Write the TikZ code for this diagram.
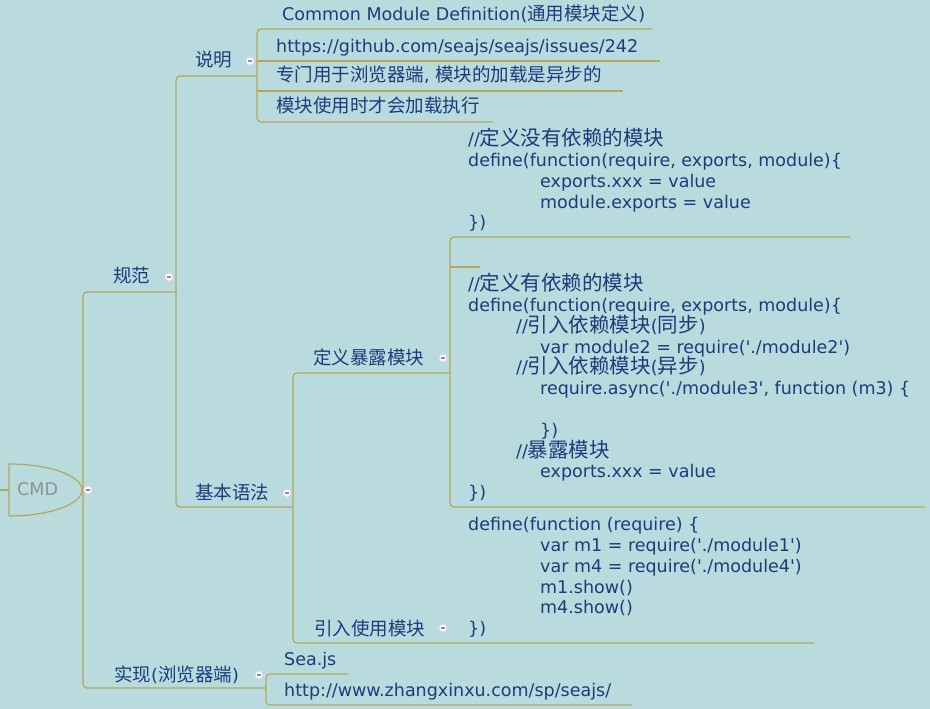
\documentclass[tikz,border=0pt]{standalone}
\usepackage{fontspec}
\setmainfont{DejaVu Sans}
\newfontfamily\cjkfont{Noto Sans CJK SC}
\newcommand\zh[1]{{\cjkfont\fontsize{18.5}{21}\selectfont #1}}
\newcommand\zc[1]{{\cjkfont\fontsize{20.5}{21}\selectfont #1}}
\newcommand\qq{\textquotesingle}
\definecolor{bgc}{HTML}{B9DBDE}
\definecolor{lnc}{HTML}{B3A75C}
\definecolor{txc}{HTML}{1A3C7C}
\definecolor{grc}{HTML}{8C9398}
\definecolor{lavc}{HTML}{D2CFF5}
\definecolor{mic}{HTML}{8E8E9A}
\tikzset{
  lbl/.style={text=txc, inner sep=0pt, anchor=base west, font=\fontsize{17.5}{21}\selectfont},
  conn/.style={draw=lnc, line width=1.2pt, rounded corners=4pt},
  mn/.style={circle, fill=white, draw=lavc, line width=1pt, minimum size=8.5pt, inner sep=0pt,
    path picture={\draw[mic, line width=1.3pt] ([xshift=-2.3pt]path picture bounding box.center) -- ([xshift=2.3pt]path picture bounding box.center);}}
}
\begin{document}
\begin{tikzpicture}[x=1pt,y=-1pt]
\fill[bgc] (0,0) rectangle (930,709);
\useasboundingbox (0,0) rectangle (930,709);

% ---- connectors (underline style tree) ----
\coordinate (r0) at (0,490);
\coordinate (r1) at (9,490);
\draw[conn] (r0) -- (r1);
\draw[draw=lnc, line width=1.2pt] (9,516) -- (9,464) arc[start angle=-90, end angle=90, x radius=73, y radius=26];

\coordinate (gfU) at (176,292);
\coordinate (sxU) at (266,688);
\draw[conn] (gfU) -- (83,292) -- (83,688) -- (sxU);

\coordinate (smU) at (257,76);
\coordinate (jbU) at (293,507);
\draw[conn] (smU) -- (176,76) -- (176,507) -- (jbU);

\draw[conn] (652,29) -- (257,29) -- (257,122) -- (493,122);
\draw[conn] (257,61) -- (660,61);
\draw[conn] (257,91) -- (623,91);

\draw[conn] (348,674) -- (266,674) -- (266,705) -- (632,705);

\coordinate (dyU) at (449,373);
\draw[conn] (dyU) -- (293,373) -- (293,643) -- (814,643);

\draw[conn] (850,237) -- (450,237) -- (450,507) -- (925,507);
\draw[conn] (450,267) -- (480,267);

% ---- labels ----
\node[lbl, text=grc] (cmd) at (17,495.7) {CMD};
\node[lbl] (guifan) at (113,282.7) {\zh{规范}};
\node[lbl] (shuoming) at (195,66.7) {\zh{说明}};
\node[lbl] (jiben) at (195,499.3) {\zh{基本语法}};
\node[lbl] (shixian) at (114,681.7) {\zh{实现}(\zh{浏览器端})};
\node[lbl] (dingyi) at (313,364.3) {\zh{定义暴露模块}};
\node[lbl] (yinru) at (314,635) {\zh{引入使用模块}};

\node[lbl] (com) at (282,21) {Common Module Definition(\zh{通用模块定义})};
\node[lbl] (url1) at (276,52.3) {https://github.com/seajs/seajs/issues/242};
\node[lbl] (desc1) at (276,82) {\zh{专门用于浏览器端}, \zh{模块的加载是异步的}};
\node[lbl] (desc2) at (276,112.7) {\zh{模块使用时才会加载执行}};
\node[lbl] (seajs) at (284,665.7) {Sea.js};
\node[lbl] (url2) at (284,696.7) {http://www.zhangxinxu.com/sp/seajs/};

% ---- code block 1 ----
\node[lbl] (a0) at (468,146.0) {//\zc{定义没有依赖的模块}};
\node[lbl] (a1) at (468,166.7) {define(function(require, exports, module)\{};
\node[lbl] (a2) at (540,187.4) {exports.xxx = value};
\node[lbl] (a3) at (540,208.1) {module.exports = value};
\node[lbl] (a4) at (468,228.8) {\})};

% ---- code block 2 ----
\node[lbl] (b0) at (468,290.7) {//\zc{定义有依赖的模块}};
\node[lbl] (b1) at (468,311.5) {define(function(require, exports, module)\{};
\node[lbl] (b2) at (516,332.3) {//\zc{引入依赖模块}(\zc{同步})};
\node[lbl] (b3) at (540,353.1) {var module2 = require(\qq./module2\qq)};
\node[lbl] (b4) at (516,373.9) {//\zc{引入依赖模块}(\zc{异步})};
\node[lbl] (b5) at (540,394.7) {require.async(\qq./module3\qq, function (m3) \{};
\node[lbl] (b7) at (540,436.3) {\})};
\node[lbl] (b8) at (516,457.1) {//\zc{暴露模块}};
\node[lbl] (b9) at (540,477.9) {exports.xxx = value};
\node[lbl] (b10) at (468,498.7) {\})};

% ---- code block 3 ----
\node[lbl] (c0) at (468,530.7) {define(function (require) \{};
\node[lbl] (c1) at (540,551.5) {var m1 = require(\qq./module1\qq)};
\node[lbl] (c2) at (540,572.3) {var m4 = require(\qq./module4\qq)};
\node[lbl] (c3) at (540,593.1) {m1.show()};
\node[lbl] (c4) at (540,613.9) {m4.show()};
\node[lbl] (c5) at (468,634.7) {\})};

% ---- collapse markers ----
\node[mn] (m1) at (88,490) {};
\node[mn] (m2) at (169,277) {};
\node[mn] (m3) at (250,61) {};
\node[mn] (m4) at (287,493) {};
\node[mn] (m5) at (443,358) {};
\node[mn] (m6) at (443,628) {};
\node[mn] (m7) at (259,675) {};
\end{tikzpicture}
\end{document}
